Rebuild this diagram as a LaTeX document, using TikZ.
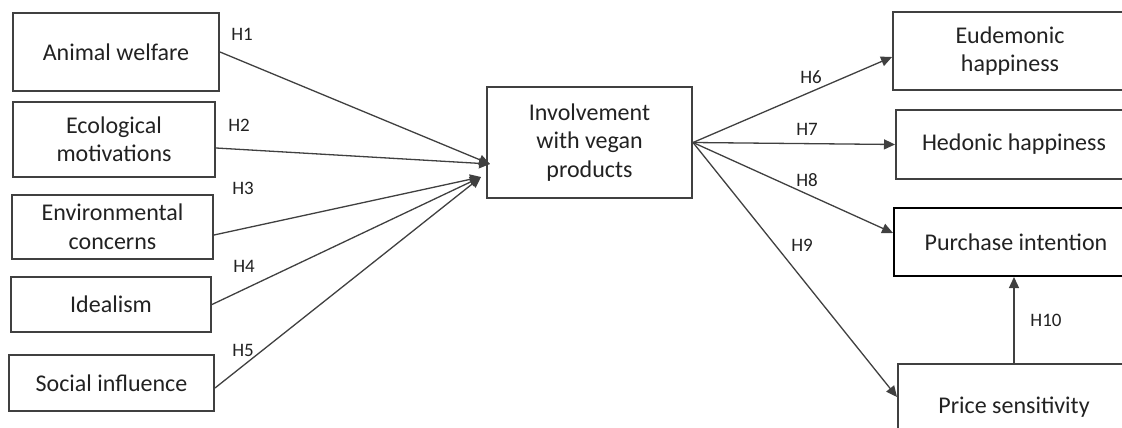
\documentclass[tikz,border=0pt]{standalone}
\usepackage{fontspec}
\setmainfont{Carlito}
\usetikzlibrary{arrows.meta}
\definecolor{edge}{HTML}{404040}
\definecolor{ink}{HTML}{222222}
\tikzset{
  box/.style={draw=edge, line width=2pt, fill=white, text=ink, align=center,
    inner sep=0pt, font=\fontsize{24}{28.5}\selectfont},
  path/.style={draw=edge, line width=1.3pt, -{Triangle[length=11pt,width=10pt]}},
  hyp/.style={text=ink, font=\fontsize{19}{22}\selectfont, inner sep=0pt}
}
\begin{document}
\begin{tikzpicture}[x=1pt,y=-1pt]
\useasboundingbox (0,0) rectangle (1122,428);
\clip (0,0) rectangle (1122,428);
\fill[white] (0,0) rectangle (1122,428);

% antecedents
\node[box, minimum width=206pt, minimum height=78pt] (aw)  at (116,52)    {Animal welfare};
\node[box, minimum width=202pt, minimum height=75pt] (eco) at (114,139.5) {Ecological\\motivations};
\node[box, minimum width=201pt, minimum height=64pt] (env) at (112.5,227) {Environmental\\concerns};
\node[box, minimum width=200pt, minimum height=55pt] (ide) at (111,304.5) {Idealism};
\node[box, minimum width=205pt, minimum height=56pt] (soc) at (111.5,383) {Social influence};

% mediator
\node[box, minimum width=205pt, minimum height=111pt] (inv) at (589.5,142.5) {Involvement\\with vegan\\products};

% outcomes
\node[box, minimum width=234pt, minimum height=78pt] (eud) at (1010,51)    {Eudemonic\\happiness};
\node[box, minimum width=236pt, minimum height=69pt] (hed) at (1014,144.5) {Hedonic happiness};
\node[box, draw=black, minimum width=244pt, minimum height=68pt] (pur) at (1016,242) {Purchase intention};
\node[box, minimum width=232pt, minimum height=86pt] (pri) at (1014,407)   {Price sensitivity};

% arrow heads meeting the mediator
\coordinate (inA) at (490,164);
\coordinate (inB) at (481,177);

\draw[path] (aw.east) -- (inA);
\draw[path] ([yshift=-8.5pt]eco.east) -- (inA);
\draw[path] ([yshift=-8pt]env.east) -- (inB);
\draw[path] (ide.east) -- (inB);
\draw[path] ([yshift=-5pt]soc.east) -- (inB);

\draw[path] (inv.east) -- ([yshift=-6pt]eud.west);
\draw[path] (inv.east) -- (hed.west);
\draw[path] (inv.east) -- ([yshift=9pt]pur.west);
\draw[path] (inv.east) -- ([yshift=10pt]pri.west);
\draw[path] (pri.north) -- (pri.north |- pur.south);

% hypothesis labels
\node[hyp] (h1)  at (242,34)   {H1};
\node[hyp] (h2)  at (239,125)  {H2};
\node[hyp] (h3)  at (243,188)  {H3};
\node[hyp] (h4)  at (244,266)  {H4};
\node[hyp] (h5)  at (243,350)  {H5};
\node[hyp] (h6)  at (811,77)   {H6};
\node[hyp] (h7)  at (807,129)  {H7};
\node[hyp] (h8)  at (807,180)  {H8};
\node[hyp] (h9)  at (802,245)  {H9};
\node[hyp] (h10) at (1046,320) {H10};
\end{tikzpicture}
\end{document}
